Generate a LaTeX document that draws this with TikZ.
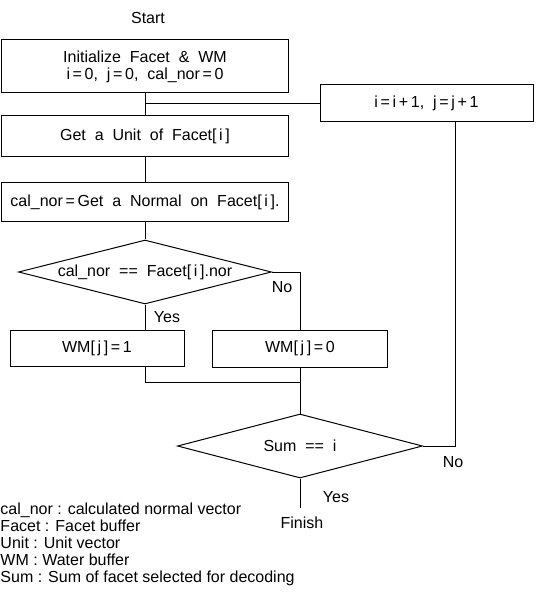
\documentclass[tikz,border=0pt]{standalone}
\usepackage{fontspec}
\setmainfont{Liberation Sans}[WordSpace=2]
\newfontfamily\legendfont{Liberation Sans}
\usetikzlibrary{shapes.geometric}
\begin{document}
\begin{tikzpicture}[x=1pt,y=-1pt,line width=1pt,font=\fontsize{16}{17}\selectfont,
 blk/.style={draw,rectangle,inner sep=2pt,align=center},
 test/.style={draw,diamond,aspect=4,inner sep=0pt},
 lbl/.style={inner sep=1pt}]
\useasboundingbox (0,0) rectangle (538,593);
\node (start) at (148,18) {Start};
\node[blk,minimum width=287pt,minimum height=53pt] (init) at (145,66.5) {Initialize Facet \& WM\\ i\,=\,0, j\,=\,0, cal\_nor\,=\,0};
\node[blk,minimum width=213pt,minimum height=37pt] (inc) at (426.5,103.5) {i\,=\,i\,+\,1, j\,=\,j\,+\,1};
\node[blk,minimum width=287pt,minimum height=41pt] (unit) at (145,136.5) {Get a Unit of Facet[\,i\,]};
\node[blk,minimum width=287pt,minimum height=39pt] (normal) at (145,202.5) {cal\_nor\,=\,Get a Normal on Facet[\,i\,].};
\node[test,minimum width=253pt,minimum height=64pt] (cmp) at (145,272) {cal\_nor == Facet[\,i\,].nor};
\node[blk,minimum width=174pt,minimum height=36pt] (wm1) at (97,348) {WM[\,j\,]\,=\,1};
\node[blk,minimum width=175pt,minimum height=37pt] (wm0) at (300,348.5) {WM[\,j\,]\,=\,0};
\node[test,minimum width=245pt,minimum height=64pt] (sum) at (300,446) {Sum == i};
\coordinate (end) at (300,508);
\node (finish) at (302,523) {Finish};
\coordinate (merge) at (300,382);
\draw (init) -- (unit);
\draw (init.south |- inc.west) -- (inc.west);
\draw (unit) -- (normal);
\draw (normal) -- (cmp);
\draw (cmp.south) -- (cmp.south |- wm1.north);
\draw (cmp.east) -| (wm0.north);
\draw (cmp.south |- wm1.south) |- (merge);
\draw (wm0) -- (sum);
\draw (sum.east) -| ([xshift=-78pt]inc.south east);
\draw (sum.south) -- (end);
\node[lbl] (yes1) at (167,317) {Yes};
\node[lbl] (no1) at (282,287) {No};
\node[lbl] (no2) at (453,462) {No};
\node[lbl] (yes2) at (336,497) {Yes};
\node[anchor=north west,align=left,inner sep=0pt,font=\legendfont\fontsize{16}{17}\selectfont] (legend) at (0,502) {cal\_nor : calculated normal vector\\ Facet : Facet buffer\\ Unit : Unit vector\\ WM : Water buffer\\ Sum : Sum of facet selected for decoding};
\end{tikzpicture}
\end{document}
